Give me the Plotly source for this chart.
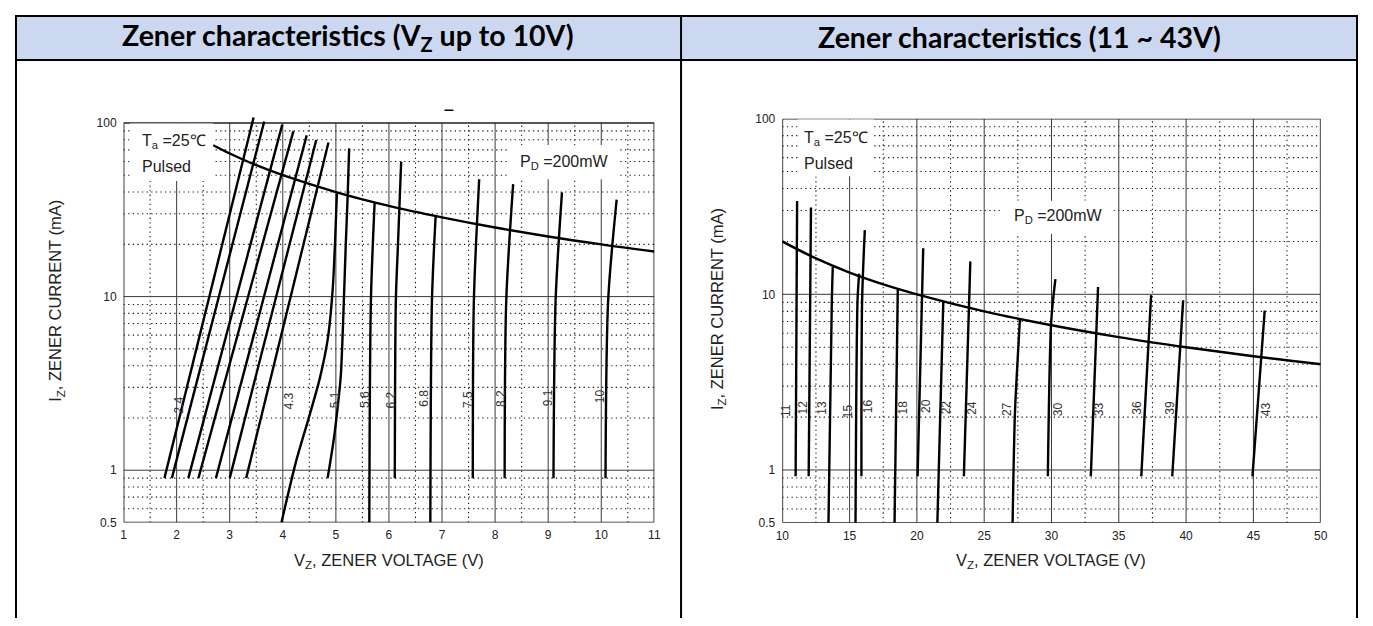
import math
import plotly.graph_objects as go

# The page keeps the browser's default 8px body margin, so the figure is sized to fit
# the 1373x626 window exactly and all page-pixel positions are shifted by that margin.
PAGE_W, PAGE_H = 1373, 626
OFF = 8
W, H = PAGE_W - 2 * OFF, PAGE_H - 2 * OFF

# ---------------- data ----------------
# Left chart: Zener curves (VZ up to 10V)  -- voltage (V) / current (mA)
left_curve_names = ["2.4", "2.7", "3.0", "3.3", "3.6", "3.9", "4.3", "4.7",
                    "5.1", "5.6", "6.2", "6.8", "7.5", "8.2", "9.1", "10"]
left_curve_v = [
    [1.77, 3.45],
    [1.91, 3.65],
    [2.22, 3.99],
    [2.41, 4.20],
    [2.74, 4.45],
    [3.00, 4.63],
    [3.31, 4.86],
    [3.975, 4.249, 4.491, 4.696, 4.845, 4.938, 4.985, 5.019],
    [4.845, 4.957, 5.032, 5.093, 5.144, 5.186, 5.224, 5.250],
    [5.63, 5.66, 5.73],
    [6.11, 6.13, 6.17, 6.23],
    [6.78, 6.81, 6.88],
    [7.58, 7.60, 7.70],
    [8.18, 8.21, 8.34],
    [9.10, 9.14, 9.26],
    [10.08, 10.13, 10.29],
]
left_curve_i = [
    [0.9, 107.5],
    [0.9, 102.0],
    [0.9, 97.8],
    [0.9, 89.7],
    [0.9, 84.8],
    [0.9, 79.8],
    [0.9, 77.2],
    [0.5, 1.12, 2.01, 3.37, 5.65, 10.8, 20.7, 39.4],
    [0.9, 1.48, 2.28, 3.51, 8.34, 19.8, 39.5, 71.4],
    [0.5, 9.5, 34.7],
    [0.9, 9.5, 20.0, 59.8],
    [0.5, 9.5, 29.2],
    [0.9, 9.5, 47.4],
    [0.9, 9.5, 44.4],
    [0.9, 9.5, 39.8],
    [0.9, 9.5, 36.2],
]
left_label_text = ["2.4", "4.3", "5.1", "5.6", "6.2", "6.8", "7.5", "8.2", "9.1", "10"]
left_label_v = [2.04, 4.12, 4.99, 5.55, 6.03, 6.67, 7.49, 8.11, 9.00, 9.99]
left_label_i = [2.38, 2.49, 2.54, 2.54, 2.54, 2.60, 2.54, 2.60, 2.60, 2.66]

left_pd_v = [2.69, 3.0, 3.5, 4.0, 5.0, 6.0, 7.0, 8.0, 9.0, 10.0, 11.0]
left_pd_i = [74.4, 66.7, 57.1, 50.0, 40.0, 33.3, 28.6, 25.0, 22.2, 20.0, 18.2]

left_x_major = [1, 2, 3, 4, 5, 6, 7, 8, 9, 10, 11]
left_x_minor = [1.5, 2.5, 3.5, 4.5, 5.5, 6.5, 7.5, 8.5, 9.5, 10.5]

# Right chart: Zener curves (11 ~ 43V)
right_curve_names = ["11", "12", "13", "15", "16", "18", "20", "22",
                     "24", "27", "30", "33", "36", "39", "43"]
right_curve_v = [
    [10.99, 11.10],
    [11.96, 12.13],
    [13.43, 13.68, 13.75],
    [15.44, 15.59, 15.71],
    [15.88, 15.93, 16.13],
    [18.34, 18.58],
    [20.05, 20.47],
    [21.52, 21.96],
    [23.49, 23.97],
    [27.11, 27.28, 27.46, 27.65],
    [29.73, 29.98, 30.29],
    [32.92, 33.46],
    [36.67, 37.40],
    [38.97, 39.78],
    [44.93, 45.84],
]
right_curve_i = [
    [0.92, 34.0],
    [0.92, 31.2],
    [0.5, 9.25, 14.3],
    [0.5, 9.25, 13.1],
    [0.92, 9.25, 23.2],
    [0.5, 10.6],
    [0.92, 18.3],
    [0.5, 9.05],
    [0.92, 15.4],
    [0.5, 2.07, 3.94, 7.16],
    [0.92, 7.0, 12.2],
    [0.92, 11.0],
    [0.92, 9.9],
    [0.92, 9.25],
    [0.92, 8.07],
]
right_label_text = ["11", "12", "13", "15", "16", "18", "20", "22",
                    "24", "27", "30", "33", "36", "39", "43"]
right_label_v = [10.29, 11.52, 12.94, 14.90, 16.38, 18.95, 20.66, 22.13,
                 24.10, 26.74, 30.54, 33.58, 36.35, 38.80, 45.99]
right_label_i = [2.17, 2.26, 2.26, 2.17, 2.31, 2.26, 2.31, 2.26,
                 2.26, 2.21, 2.21, 2.21, 2.26, 2.26, 2.21]

right_pd_v = [10, 12.5, 15, 17.5, 20, 25, 30, 35, 40, 45, 50]
right_pd_i = [20.0, 16.0, 13.3, 11.4, 10.0, 8.0, 6.67, 5.71, 5.0, 4.44, 4.0]

right_x_major = [10, 15, 20, 25, 30, 35, 40, 45, 50]
right_x_minor = [12.5, 17.5, 22.5, 27.5, 32.5, 37.5, 42.5, 47.5]

y_major = [0.5, 1, 10, 100]
y_minor = [0.6, 0.7, 0.8, 0.9, 2, 3, 4, 5, 6, 7, 8, 9,
           20, 30, 40, 50, 60, 70, 80, 90]
y_tick_text = ["0.5", "1", "10", "100"]

# ---------------- helpers (page pixel -> paper) ----------------
def px(xp):
    return (xp - OFF) / W


def py(yp):
    return 1 - (yp - OFF) / H


FONT = "Liberation Sans, Arial, sans-serif"
fig = go.Figure()


def grid_xy(vals, lo, hi, vertical):
    xs, ys = [], []
    for v in vals:
        if vertical:
            xs += [v, v, None]
            ys += [lo, hi, None]
        else:
            xs += [lo, hi, None]
            ys += [v, v, None]
    return xs, ys


def add_chart(xa, ya, xmaj, xmin, names, cv, ci, pdv, pdi):
    x0, x1 = xmaj[0], xmaj[-1]
    y0, y1 = y_major[0], y_major[-1]
    dot = dict(color="#1a1a1a", width=1.1, dash="1.3px,3.3px")
    sol = dict(color="#3a3a3a", width=1)
    gx, gy = grid_xy(xmin, y0, y1, True)
    fig.add_trace(go.Scatter(x=gx, y=gy, mode="lines", line=dot, xaxis=xa, yaxis=ya,
                             hoverinfo="skip", showlegend=False))
    gx, gy = grid_xy(y_minor, x0, x1, False)
    fig.add_trace(go.Scatter(x=gx, y=gy, mode="lines", line=dot, xaxis=xa, yaxis=ya,
                             hoverinfo="skip", showlegend=False))
    gx, gy = grid_xy(xmaj[1:-1], y0, y1, True)
    fig.add_trace(go.Scatter(x=gx, y=gy, mode="lines", line=sol, xaxis=xa, yaxis=ya,
                             hoverinfo="skip", showlegend=False))
    gx, gy = grid_xy(y_major[1:-1], x0, x1, False)
    fig.add_trace(go.Scatter(x=gx, y=gy, mode="lines", line=sol, xaxis=xa, yaxis=ya,
                             hoverinfo="skip", showlegend=False))
    # frame
    fig.add_trace(go.Scatter(x=[x0, x1, x1, x0, x0], y=[y0, y0, y1, y1, y0], mode="lines",
                             line=dict(color="#222", width=1.7), xaxis=xa, yaxis=ya,
                             hoverinfo="skip", showlegend=False))
    # zener curves
    for n, v, i in zip(names, cv, ci):
        fig.add_trace(go.Scatter(x=v, y=i, mode="lines", name=n,
                                 line=dict(color="black", width=2.4, shape="spline", smoothing=0.8),
                                 xaxis=xa, yaxis=ya, showlegend=False))
    # power dissipation curve
    fig.add_trace(go.Scatter(x=pdv, y=pdi, mode="lines", name="PD=200mW",
                             line=dict(color="black", width=2.4, shape="spline", smoothing=1),
                             xaxis=xa, yaxis=ya, showlegend=False))


add_chart("x", "y", left_x_major, left_x_minor, left_curve_names, left_curve_v, left_curve_i,
          left_pd_v, left_pd_i)
add_chart("x2", "y2", right_x_major, right_x_minor, right_curve_names, right_curve_v,
          right_curve_i, right_pd_v, right_pd_i)

# ---------------- axes (pixel-matched domains) ----------------
L_left, L_right, L_bottom, L_dec = 117.7, 654.0, 527.4, 177.7
L_ytop_val = 112.0
L_top = L_bottom - L_dec * (math.log10(L_ytop_val) - math.log10(0.5))
R_left, R_right, R_bottom, R_dec = 783.3, 1327.3, 527.8, 179.8
R_top = R_bottom - R_dec * (2 - math.log10(0.5))

tickfont = dict(family=FONT, size=12, color="#222")
common_x = dict(showgrid=False, zeroline=False, showline=False, ticks="",
                tickfont=tickfont, ticklabelstandoff=4, fixedrange=True)
common_y = dict(type="log", showgrid=False, zeroline=False, showline=False, ticks="",
                tickfont=tickfont, tickvals=y_major, ticktext=y_tick_text,
                ticklabelstandoff=6, fixedrange=True)

fig.update_layout(
    width=W, height=H, margin=dict(l=0, r=0, t=0, b=0),
    paper_bgcolor="white", plot_bgcolor="rgba(0,0,0,0)",
    xaxis=dict(domain=[px(L_left), px(L_right)], range=[1, 11], anchor="y",
               tickvals=left_x_major, **common_x),
    yaxis=dict(domain=[py(L_bottom), py(L_top)],
               range=[math.log10(0.5), math.log10(L_ytop_val)], anchor="x", **common_y),
    xaxis2=dict(domain=[px(R_left), px(R_right)], range=[10, 50], anchor="y2",
                tickvals=right_x_major, **common_x),
    yaxis2=dict(domain=[py(R_bottom), py(R_top)], range=[math.log10(0.5), 2],
                anchor="x2", **common_y),
)

shapes = []
# table header fill and borders
shapes.append(dict(type="rect", xref="paper", yref="paper", x0=px(8), x1=px(1365),
                   y0=py(54), y1=py(8), fillcolor="#CCD8F0", line=dict(width=0), layer="below"))
bl = dict(color="black", width=2)
for (xa, ya, xb, yb) in [(8, 9, 1365, 9), (8, 54, 1365, 54), (9, 8, 9, 626),
                         (681, 8, 681, 626), (1364, 8, 1364, 626)]:
    shapes.append(dict(type="line", xref="paper", yref="paper", x0=px(xa), x1=px(xb),
                       y0=py(ya), y1=py(yb), line=bl))
# white backgrounds behind the in-plot texts
for (xa, ya, xb, yb) in [(124, 119, 208, 178), (506, 141, 617, 176),
                         (799, 115, 876, 173), (1005, 198, 1118, 232)]:
    shapes.append(dict(type="rect", xref="paper", yref="paper", x0=px(xa), x1=px(xb),
                       y0=py(yb), y1=py(ya), fillcolor="white", line=dict(width=0),
                       layer="above"))
# small stray dash above the left chart
shapes.append(dict(type="line", xref="paper", yref="paper", x0=px(442), x1=px(451),
                   y0=py(105.5), y1=py(105.5), line=dict(color="black", width=1.5)))
fig.update_layout(shapes=shapes)

ann = []
hdr_font = dict(family="Lato, Carlito, Calibri, sans-serif", size=28.5, color="black")
ann.append(dict(text="<b>Zener characteristics (V<sub>Z</sub> up to 10V)</b>", x=px(344), y=py(31),
                xref="paper", yref="paper", showarrow=False, font=hdr_font,
                xanchor="center", yanchor="middle"))
ann.append(dict(text="<b>Zener characteristics (11 ~ 43V)</b>", x=px(1023), y=py(31),
                xref="paper", yref="paper", showarrow=False, font=hdr_font,
                xanchor="center", yanchor="middle"))

tfont = dict(family=FONT, size=16, color="#222")
ttl_font = dict(family=FONT, size=16.5, color="#222")
for (cx, cy) in [(385.8, 566.7), (1055.3, 566.7)]:
    ann.append(dict(text="V<sub>Z</sub>, ZENER VOLTAGE (V)", x=px(cx), y=py(cy), xref="paper",
                    yref="paper", showarrow=False, font=ttl_font, xanchor="center",
                    yanchor="middle"))
for (cx, cy) in [(50, 301), (718.3, 309)]:
    ann.append(dict(text="I<sub>Z</sub>, ZENER CURRENT (mA)", x=px(cx), y=py(cy), xref="paper",
                    yref="paper", showarrow=False, font=ttl_font, xanchor="center",
                    yanchor="middle", textangle=-90))

for (lx, ly1, ly2) in [(134, 137, 163.3), (803.3, 134.3, 160)]:
    ann.append(dict(text="T<sub>a</sub> =25℃", x=px(lx), y=py(ly1), xref="paper", yref="paper",
                    showarrow=False, font=tfont, xanchor="left", yanchor="middle"))
    ann.append(dict(text="Pulsed", x=px(lx), y=py(ly2), xref="paper", yref="paper",
                    showarrow=False, font=tfont, xanchor="left", yanchor="middle"))
for (lx, ly) in [(516.7, 159), (1015, 214)]:
    ann.append(dict(text="P<sub>D</sub> =200mW", x=px(lx), y=py(ly), xref="paper", yref="paper",
                    showarrow=False, font=tfont, xanchor="left", yanchor="middle"))

lab_font = dict(family=FONT, size=12, color="#333")
for t, v, i in zip(left_label_text, left_label_v, left_label_i):
    ann.append(dict(text=t, x=v, y=math.log10(i), xref="x", yref="y", showarrow=False,
                    font=lab_font, textangle=-90, xanchor="center", yanchor="middle"))
for t, v, i in zip(right_label_text, right_label_v, right_label_i):
    ann.append(dict(text=t, x=v, y=math.log10(i), xref="x2", yref="y2", showarrow=False,
                    font=lab_font, textangle=-90, xanchor="center", yanchor="middle"))
fig.update_layout(annotations=ann)

fig.write_html("out.html", config={"displayModeBar": False, "staticPlot": True})
